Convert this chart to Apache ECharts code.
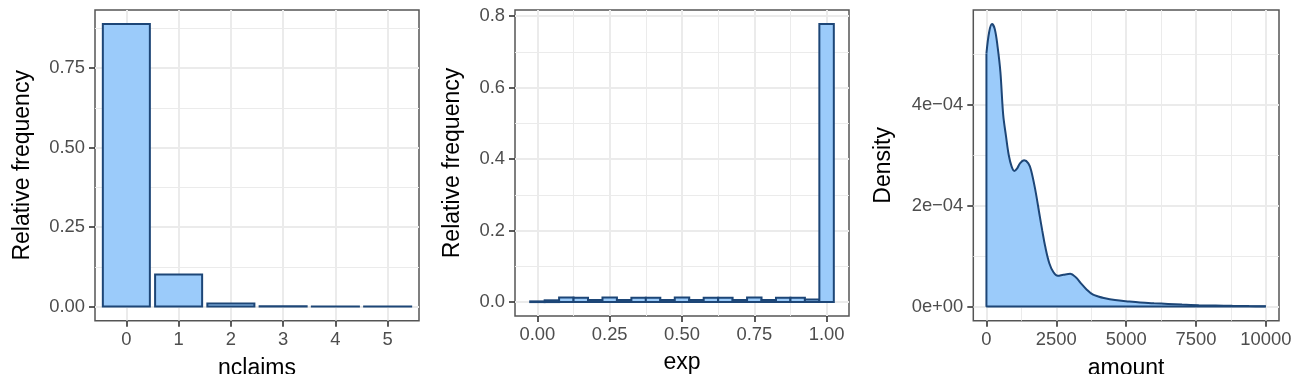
<!DOCTYPE html>
<html>
<head>
<meta charset="utf-8">
<script src="https://cdn.jsdelivr.net/npm/echarts@6/dist/echarts.min.js"></script>
<style>html,body{margin:0;padding:0;background:#fff}#c{width:1293px;height:374px}</style>
</head>
<body>
<div id="c"></div>
<script>
// ---- Panel 1: nclaims ----
const nclaimsCats = [0, 1, 2, 3, 4, 5];
const nclaimsFreq = [0.888, 0.101, 0.010, 0.0012, 0.0004, 0.0002];
const p1XTicks = [0, 1, 2, 3, 4, 5];
const p1YTicks = [0, 0.25, 0.5, 0.75];
const p1YMinor = [0.125, 0.375, 0.625, 0.875];

// ---- Panel 2: exp histogram (bin width 0.05) ----
const expBins = [0.00, 0.05, 0.10, 0.15, 0.20, 0.25, 0.30, 0.35, 0.40, 0.45, 0.50,
                 0.55, 0.60, 0.65, 0.70, 0.75, 0.80, 0.85, 0.90, 0.95, 1.00];
const expFreq = [0.002, 0.005, 0.013, 0.012, 0.006, 0.013, 0.006, 0.012, 0.012, 0.006, 0.013,
                 0.006, 0.012, 0.012, 0.006, 0.013, 0.006, 0.012, 0.012, 0.007, 0.778];
const p2XTicks = [0, 0.25, 0.5, 0.75, 1.0];
const p2XMinor = [0.125, 0.375, 0.625, 0.875];
const p2YTicks = [0, 0.2, 0.4, 0.6, 0.8];
const p2YMinor = [0.1, 0.3, 0.5, 0.7];

// ---- Panel 3: amount density ----
const amountX = [0, 100, 200, 300, 400, 500, 600, 700, 800, 900, 1000, 1100, 1200, 1350, 1500,
                 1600, 1750, 1900, 2000, 2100, 2250, 2400, 2550, 2750, 3000, 3200, 3400, 3600,
                 3800, 4000, 4200, 4600, 5100, 5500, 6000, 6500, 7000, 7600, 8200, 8800, 9400, 10000];
const amountDensity = [5.02e-4, 5.45e-4, 5.60e-4, 5.50e-4, 5.15e-4, 4.65e-4, 3.80e-4, 3.38e-4, 3.00e-4,
                 2.78e-4, 2.69e-4, 2.74e-4, 2.84e-4, 2.90e-4, 2.84e-4, 2.70e-4, 2.31e-4, 1.82e-4, 1.50e-4,
                 1.20e-4, 0.86e-4, 0.68e-4, 0.61e-4, 0.63e-4, 0.65e-4, 0.58e-4, 0.45e-4, 0.33e-4,
                 0.24e-4, 0.20e-4, 0.17e-4, 0.13e-4, 0.10e-4, 0.08e-4, 0.065e-4, 0.053e-4, 0.04e-4,
                 0.027e-4, 0.02e-4, 0.014e-4, 0.009e-4, 0.005e-4];
const p3XTicks = [0, 2500, 5000, 7500, 10000];
const p3XMinor = [1250, 3750, 6250, 8750];
const p3YTicks = [0, 2e-4, 4e-4];
const p3YTickLabels = ['0e+00', '2e\u221204', '4e\u221204'];
const p3YMinor = [1e-4, 3e-4, 5e-4];

const FONT = 'Liberation Sans, Arial, sans-serif';
const FILL = '#9BCBFA';
const STROKE = '#1D4677';
const GRID = '#EBEBEB';

function majorAxis(gridIndex, min, max, ticks, fmt, name, nameGap, isY) {
  return {
    type: 'value', gridIndex: gridIndex, min: min, max: max,
    position: isY ? 'left' : 'bottom',
    name: name, nameLocation: 'middle', nameGap: nameGap, nameRotate: isY ? 90 : 0,
    nameTextStyle: { fontFamily: FONT, fontSize: 23, color: '#000' },
    axisLine: { show: false, onZero: false },
    axisTick: { show: true, length: 6, inside: false, customValues: ticks,
                lineStyle: { color: '#333', width: 1.6 } },
    axisLabel: { show: true, customValues: ticks, margin: 10, formatter: fmt,
                 fontFamily: FONT, fontSize: 18.4, color: '#4D4D4D' },
    splitLine: { show: true, lineStyle: { color: GRID, width: 2 } },
    minorTick: { show: false }, minorSplitLine: { show: false }
  };
}
function minorAxis(gridIndex, min, max, ticks, isY) {
  return {
    type: 'value', gridIndex: gridIndex, min: min, max: max,
    position: isY ? 'right' : 'top',
    axisLine: { show: false, onZero: false },
    axisTick: { show: false, customValues: ticks },
    axisLabel: { show: false, customValues: ticks },
    splitLine: { show: true, lineStyle: { color: GRID, width: 1 } }
  };
}
function rectRenderer(half) {
  return function (params, api) {
    const x = api.value(0), y = api.value(1);
    const p0 = api.coord([x - half, y]);
    const p1 = api.coord([x + half, 0]);
    return {
      type: 'rect',
      shape: { x: p0[0], y: p0[1], width: p1[0] - p0[0], height: p1[1] - p0[1] },
      style: { fill: FILL, stroke: STROKE, lineWidth: 2 }
    };
  };
}

const p1Data = nclaimsCats.map((c, i) => [c, nclaimsFreq[i]]);
const p2Data = expBins.map((b, i) => [b, expFreq[i]]);
const p3Data = amountX.map((a, i) => [a, amountDensity[i]]);
const p3Edges = [[0, amountDensity[0]], [0, 0], [amountX[amountX.length - 1], 0]];

const gridCommon = { show: true, borderColor: '#555', borderWidth: 1.5, backgroundColor: 'transparent',
                     containLabel: false, outerBoundsMode: 'none' };

const option = {
  animation: false,
  backgroundColor: '#fff',
  grid: [
    Object.assign({ left: 95, top: 10, width: 324, height: 310.7 }, gridCommon),
    Object.assign({ left: 515, top: 10, width: 334, height: 306 }, gridCommon),
    Object.assign({ left: 973.3, top: 10, width: 305.7, height: 310.7 }, gridCommon)
  ],
  xAxis: [
    majorAxis(0, -0.6, 5.6, p1XTicks, v => String(Math.round(v)), 'nclaims', 36, false),
    majorAxis(1, -0.0775, 1.0775, p2XTicks, v => v.toFixed(2), 'exp', 35, false),
    minorAxis(1, -0.0775, 1.0775, p2XMinor, false),
    majorAxis(2, -470, 10470, p3XTicks, v => String(Math.round(v)), 'amount', 36, false),
    minorAxis(2, -470, 10470, p3XMinor, false)
  ],
  yAxis: [
    majorAxis(0, -0.0444, 0.9324, p1YTicks, v => v.toFixed(2), 'Relative frequency', 61, true),
    minorAxis(0, -0.0444, 0.9324, p1YMinor, true),
    majorAxis(1, -0.0389, 0.8169, p2YTicks, v => v.toFixed(1), 'Relative frequency', 51, true),
    minorAxis(1, -0.0389, 0.8169, p2YMinor, true),
    majorAxis(2, -0.28e-4, 5.88e-4, p3YTicks,
      v => { const i = p3YTicks.findIndex(t => Math.abs(t - v) < 1e-9); return i >= 0 ? p3YTickLabels[i] : ''; },
      'Density', 78, true),
    minorAxis(2, -0.28e-4, 5.88e-4, p3YMinor, true)
  ],
  series: [
    { type: 'custom', xAxisIndex: 0, yAxisIndex: 0, data: p1Data, renderItem: rectRenderer(0.45), z: 3 },
    { type: 'custom', xAxisIndex: 1, yAxisIndex: 2, data: p2Data, renderItem: rectRenderer(0.025), z: 3 },
    { type: 'line', xAxisIndex: 3, yAxisIndex: 4, data: p3Data, smooth: 0.35, showSymbol: false, symbol: 'none',
      lineStyle: { color: STROKE, width: 2 }, areaStyle: { color: FILL, opacity: 1 }, z: 3 },
    { type: 'line', xAxisIndex: 3, yAxisIndex: 4, data: p3Edges, smooth: false, showSymbol: false, symbol: 'none',
      lineStyle: { color: STROKE, width: 2 }, z: 4 }
  ]
};

const chart = echarts.init(document.getElementById('c'), null, { renderer: 'canvas' });
chart.setOption(option);
</script>
</body>
</html>
